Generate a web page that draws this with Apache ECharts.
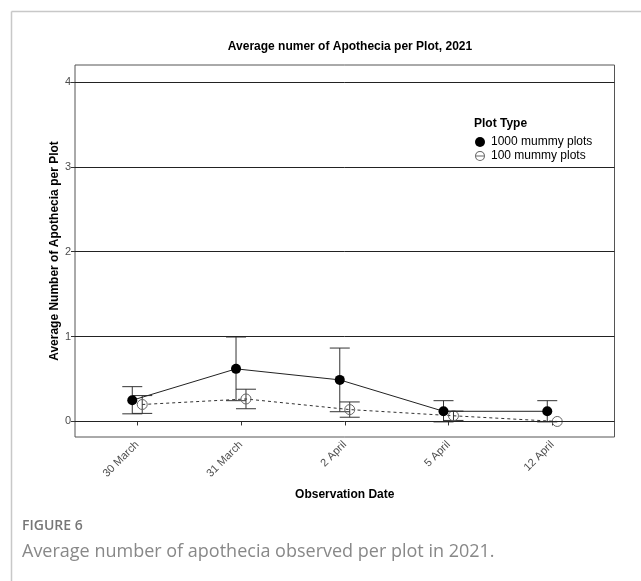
<!DOCTYPE html>
<html>
<head>
<meta charset="utf-8">
<script src="https://cdn.jsdelivr.net/npm/echarts@6/dist/echarts.min.js"></script>
<style>
html,body{margin:0;padding:0;background:#fff;}
#chart{width:641px;height:581px;}
</style>
</head>
<body>
<div id="chart"></div>
<script>
// ---- data ----
var dates = ['30 March', '31 March', '2 April', '5 April', '12 April'];
var mean1000 = [0.25, 0.62, 0.49, 0.12, 0.12];
var err1000 = [0.16, 0.375, 0.375, 0.125, 0.125];
var mean100 = [0.20, 0.265, 0.14, 0.067, 0.0];
var err100 = [0.105, 0.115, 0.09, 0.055, 0.0];
var yTicks = [0, 1, 2, 3, 4];
var seriesNames = ['1000 mummy plots', '100 mummy plots'];
var legendTitle = 'Plot Type';
var chartTitle = 'Average numer of Apothecia per Plot, 2021';
var xName = 'Observation Date';
var yName = 'Average Number of Apothecia per Plot';
var figLabel = 'FIGURE 6';
var figCaption = 'Average number of apothecia observed per plot in 2021.';

// ---- build ----
var DODGE = 0.048;
var xPos = dates.map(function (d, i) { return i + 1; });
var pts1000 = mean1000.map(function (v, i) { return [xPos[i] - DODGE, v]; });
var pts100 = mean100.map(function (v, i) { return [xPos[i] + DODGE, v]; });
var eb1000 = mean1000.map(function (v, i) { return [xPos[i] - DODGE, v - err1000[i], v + err1000[i]]; });
var eb100 = mean100.map(function (v, i) { return [xPos[i] + DODGE, v - err100[i], v + err100[i]]; });

var FONT = 'Liberation Sans, Arial, sans-serif';
var HOLLOW_ICON = 'path://M0,5a5,5 0 1,0 10,0a5,5 0 1,0 -10,0Z M1.1,5a3.9,3.9 0 1,1 7.8,0a3.9,3.9 0 1,1 -7.8,0Z M1,4.55h8v0.9h-8Z';

function errRender(params, api) {
  var x = api.value(0), lo = api.value(1), hi = api.value(2);
  if (hi - lo <= 0) return null;
  var pLo = api.coord([x, lo]);
  var pHi = api.coord([x, hi]);
  var w = 10;
  var st = { stroke: '#333', lineWidth: 1 };
  return {
    type: 'group',
    children: [
      { type: 'line', shape: { x1: pLo[0], y1: pLo[1], x2: pHi[0], y2: pHi[1] }, style: st },
      { type: 'line', shape: { x1: pHi[0] - w, y1: pHi[1], x2: pHi[0] + w, y2: pHi[1] }, style: st },
      { type: 'line', shape: { x1: pLo[0] - w, y1: pLo[1], x2: pLo[0] + w, y2: pLo[1] }, style: st }
    ]
  };
}

var chart = echarts.init(document.getElementById('chart'), null, { renderer: 'canvas' });
var option = {
  backgroundColor: '#fff',
  animation: false,
  textStyle: { fontFamily: FONT },
  title: {
    text: chartTitle,
    left: 345,
    textAlign: 'center',
    top: 36,
    textStyle: { fontFamily: FONT, fontSize: 12, fontWeight: 'bold', color: '#000' }
  },
  grid: {
    left: 75, right: 26.5, top: 65, bottom: 144,
    show: true, borderColor: '#555', borderWidth: 1, backgroundColor: 'transparent'
  },
  legend: {
    orient: 'vertical',
    left: 475,
    top: 136,
    padding: 0,
    itemWidth: 12,
    itemHeight: 10,
    itemGap: 2,
    data: [
      { name: seriesNames[0], icon: 'circle', itemStyle: { color: '#000' } },
      { name: seriesNames[1], icon: HOLLOW_ICON, itemStyle: { color: '#666', borderWidth: 0 } }
    ],
    textStyle: { fontFamily: FONT, fontSize: 12, color: '#000' }
  },
  xAxis: {
    type: 'value',
    min: 0.4,
    max: 5.6,
    name: xName,
    nameLocation: 'middle',
    nameGap: 52,
    nameTextStyle: { fontFamily: FONT, fontSize: 12, fontWeight: 'bold', color: '#000' },
    axisLine: { show: false },
    axisTick: { show: true, customValues: xPos, length: 4, lineStyle: { color: '#333' } },
    axisLabel: {
      customValues: xPos,
      rotate: 45,
      margin: 6,
      fontFamily: FONT,
      fontSize: 11,
      color: '#4d4d4d',
      formatter: function (v) { return dates[Math.round(v) - 1]; }
    },
    splitLine: { show: false }
  },
  yAxis: {
    type: 'value',
    min: -0.183,
    max: 4.2,
    name: yName,
    nameLocation: 'middle',
    nameGap: 14,
    nameMoveOverlap: false,
    nameRotate: 90,
    nameTextStyle: { fontFamily: FONT, fontSize: 12, fontWeight: 'bold', color: '#000' },
    axisLine: { show: false },
    axisTick: { show: true, customValues: yTicks, length: 4, lineStyle: { color: '#333' } },
    axisLabel: {
      customValues: yTicks,
      margin: 4,
      fontFamily: FONT,
      fontSize: 11,
      color: '#4d4d4d'
    },
    splitLine: { show: false }
  },
  series: [
    {
      name: 'grid',
      type: 'line',
      data: [],
      silent: true,
      markLine: {
        silent: true,
        symbol: 'none',
        label: { show: false },
        lineStyle: { color: '#222', width: 1, type: 'solid' },
        data: yTicks.map(function (v) { return { yAxis: v }; })
      },
      z: 1
    },
    {
      name: 'eb100', type: 'custom', renderItem: errRender, data: eb100,
      encode: { x: 0, y: [1, 2] }, z: 3, silent: true
    },
    {
      name: 'eb1000', type: 'custom', renderItem: errRender, data: eb1000,
      encode: { x: 0, y: [1, 2] }, z: 3, silent: true
    },
    {
      name: seriesNames[1],
      type: 'line',
      data: pts100,
      symbol: 'circle',
      symbolSize: 10,
      itemStyle: { color: 'rgba(255,255,255,0)', borderColor: '#666', borderWidth: 1 },
      lineStyle: { color: '#333', width: 1, type: [3, 3] },
      z: 4
    },
    {
      name: seriesNames[0],
      type: 'line',
      data: pts1000,
      symbol: 'circle',
      symbolSize: 10,
      itemStyle: { color: '#000' },
      lineStyle: { color: '#222', width: 1 },
      z: 5
    }
  ],
  graphic: [
    { type: 'line', shape: { x1: 11.5, y1: 11.5, x2: 641, y2: 11.5 }, style: { stroke: '#c8c8c8', lineWidth: 1.5 } },
    { type: 'line', shape: { x1: 11.5, y1: 11.5, x2: 11.5, y2: 581 }, style: { stroke: '#c8c8c8', lineWidth: 1.5 } },
    {
      type: 'text', left: 474, top: 118,
      style: { text: legendTitle, font: 'bold 12px ' + FONT, fill: '#000' }
    },
    {
      type: 'text', left: 22, top: 519,
      style: { text: figLabel, font: '600 14px "Open Sans", sans-serif', fill: '#777' }
    },
    {
      type: 'text', left: 22, top: 543,
      style: { text: figCaption, font: '18px "Open Sans", sans-serif', fill: '#888' }
    }
  ]
};
chart.setOption(option);
</script>
</body>
</html>
